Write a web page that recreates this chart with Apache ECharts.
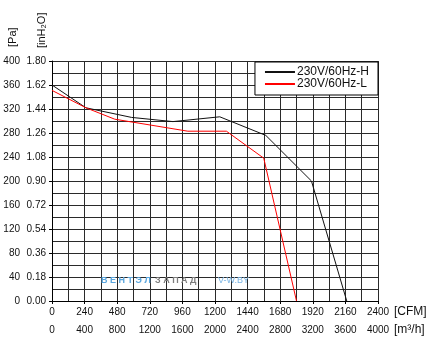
<!DOCTYPE html>
<html>
<head>
<meta charset="utf-8">
<script src="https://cdn.jsdelivr.net/npm/echarts@6/dist/echarts.min.js"></script>
<style>
html,body{margin:0;padding:0;background:#fff;}
#c{width:434px;height:343px;}
</style>
</head>
<body>
<div id="c"></div>
<script>
// Data (airflow in CFM, pressure in Pa)
const seriesNames = ['230V/60Hz-H', '230V/60Hz-L'];
const flowH = [0, 250, 585, 890, 1235, 1574, 1910, 2170];
const pressH = [360, 322, 306, 299, 307, 276, 200, 0];
const flowL = [0, 250, 462, 1000, 1284, 1559, 1800];
const pressL = [351, 322, 303, 283, 283, 238, 0];
const cfmTicks = [0, 240, 480, 720, 960, 1200, 1440, 1680, 1920, 2160, 2400];
const m3hTicks = [0, 400, 800, 1200, 1600, 2000, 2400, 2800, 3200, 3600, 4000];
const paTicks = [0, 40, 80, 120, 160, 200, 240, 280, 320, 360, 400];
const inh2oTicks = [0, 0.18, 0.36, 0.54, 0.72, 0.90, 1.08, 1.26, 1.44, 1.62, 1.80];

const FONT = '"Liberation Sans", Arial, sans-serif';
const chart = echarts.init(document.getElementById('c'), null, {renderer: 'canvas'});

function zip(a, b) { return a.map((v, i) => [v, b[i]]); }
const plain = v => String(Math.round(v));

const gridLine = {show: true, lineStyle: {color: '#2a2a2a', width: 1}};

chart.setOption({
  animation: false,
  backgroundColor: '#fff',
  grid: {left: 52, right: 56, top: 61, bottom: 42, containLabel: false},
  legend: {
    data: seriesNames,
    orient: 'vertical',
    right: 56, top: 62,
    backgroundColor: '#fff',
    borderColor: '#000', borderWidth: 1,
    padding: [4, 9, 5, 10],
    itemGap: 0,
    itemWidth: 30, itemHeight: 2,
    icon: 'rect',
    textStyle: {fontFamily: FONT, fontSize: 12, color: '#111', lineHeight: 12, padding: [0, 0, 0, -3]}
  },
  xAxis: [
    {
      type: 'value', min: cfmTicks[0], max: cfmTicks[cfmTicks.length - 1], interval: cfmTicks[1] - cfmTicks[0],
      position: 'bottom',
      axisLine: {show: true, lineStyle: {color: '#000', width: 1}},
      axisTick: {show: true, length: 3, lineStyle: {color: '#000'}},
      axisLabel: {margin: 6, fontFamily: FONT, fontSize: 10, color: '#111', showMinLabel: true, showMaxLabel: true, formatter: plain},
      splitLine: gridLine,
      minorTick: {show: false, splitNumber: 2},
      minorSplitLine: {show: true, lineStyle: {color: '#2a2a2a', width: 1}}
    },
    {
      type: 'value', min: m3hTicks[0], max: m3hTicks[m3hTicks.length - 1], interval: m3hTicks[1] - m3hTicks[0],
      position: 'bottom', offset: 18,
      axisLine: {show: false}, axisTick: {show: false},
      axisLabel: {margin: 6, fontFamily: FONT, fontSize: 10, color: '#111', showMinLabel: true, showMaxLabel: true, formatter: plain},
      splitLine: {show: false}
    }
  ],
  yAxis: [
    {
      type: 'value', min: inh2oTicks[0], max: inh2oTicks[inh2oTicks.length - 1], interval: inh2oTicks[1] - inh2oTicks[0],
      position: 'left',
      axisLine: {show: true, lineStyle: {color: '#000', width: 1}},
      axisTick: {show: true, length: 3, lineStyle: {color: '#000'}},
      axisLabel: {margin: 6, fontFamily: FONT, fontSize: 10, color: '#111',
        formatter: v => v.toFixed(2)},
      splitLine: gridLine,
      minorTick: {show: false, splitNumber: 2},
      minorSplitLine: {show: true, lineStyle: {color: '#2a2a2a', width: 1}}
    },
    {
      type: 'value', min: paTicks[0], max: paTicks[paTicks.length - 1], interval: paTicks[1] - paTicks[0],
      position: 'left', offset: 0,
      axisLine: {show: false}, axisTick: {show: false},
      axisLabel: {margin: 32, fontFamily: FONT, fontSize: 10, color: '#111', formatter: plain},
      splitLine: {show: false}
    }
  ],
  graphic: [
    {type: 'text', x: 13, y: 47, rotation: Math.PI / 2,
      style: {text: '[Pa]', font: '11px ' + FONT, fill: '#111', align: 'left', verticalAlign: 'middle'}},
    {type: 'text', x: 42, y: 48, rotation: Math.PI / 2,
      style: {text: '[inH₂O]', font: '11px ' + FONT, fill: '#111', align: 'left', verticalAlign: 'middle'}},
    {type: 'text', x: 394, y: 312,
      style: {text: '[CFM]', font: '12px ' + FONT, fill: '#111', align: 'left', verticalAlign: 'middle'}},
    {type: 'text', x: 394, y: 330,
      style: {text: '[m³/h]', font: '12px ' + FONT, fill: '#111', align: 'left', verticalAlign: 'middle'}},
    {type: 'text', x: 101, y: 281, z: 50,
      style: {text: 'В Е Н Т Э Л', font: 'bold 9px ' + FONT, fill: '#5aa6de', align: 'left', verticalAlign: 'middle'}},
    {type: 'text', x: 155, y: 281, z: 50,
      style: {text: 'З А П А Д', font: 'bold 9px ' + FONT, fill: '#7d7d7d', align: 'left', verticalAlign: 'middle'}},
    {type: 'text', x: 218, y: 281, z: 50,
      style: {text: 'V-W.BY', font: '9px ' + FONT, fill: '#78b4e4', align: 'left', verticalAlign: 'middle'}}
  ],
  series: [
    {name: seriesNames[0], type: 'line', xAxisIndex: 0, yAxisIndex: 1, data: zip(flowH, pressH),
      showSymbol: false, symbol: 'none', color: '#111', lineStyle: {color: '#111', width: 1}, z: 10},
    {name: seriesNames[1], type: 'line', xAxisIndex: 0, yAxisIndex: 1, data: zip(flowL, pressL),
      showSymbol: false, symbol: 'none', color: '#ff0000', lineStyle: {color: '#ff0000', width: 1}, z: 11}
  ]
});
</script>
</body>
</html>
